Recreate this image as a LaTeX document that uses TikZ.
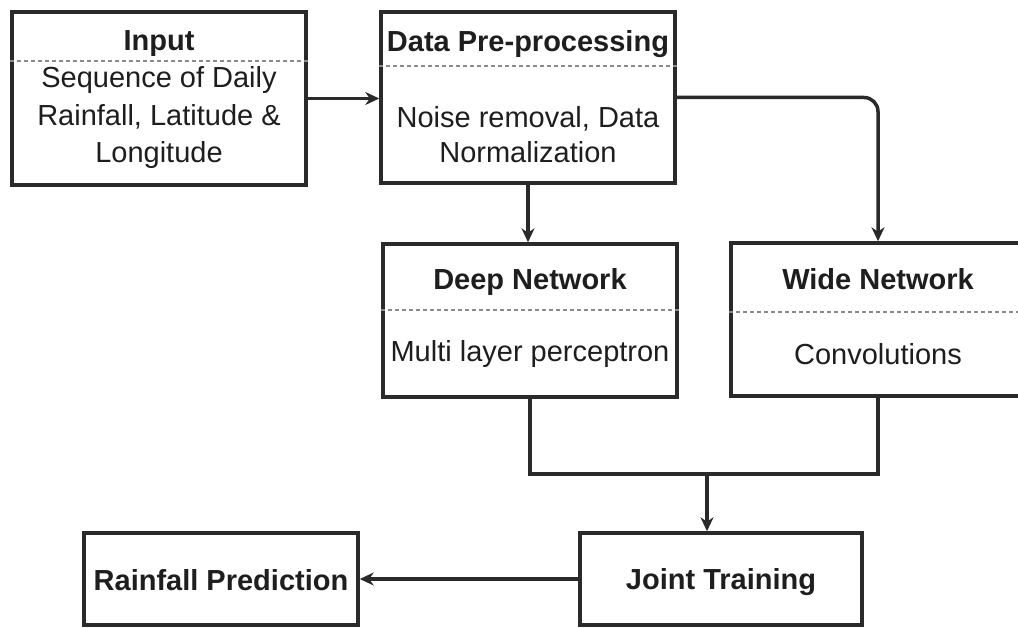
\documentclass[tikz,border=0pt]{standalone}
\usepackage{fontspec}
\setmainfont{Liberation Sans}
\usetikzlibrary{arrows.meta}
\definecolor{linec}{HTML}{2A2A2A}
\definecolor{txtc}{HTML}{1E1E1E}
\definecolor{sepc}{HTML}{8A8A8A}
\begin{document}
\begin{tikzpicture}[x=1pt,y=-1pt,
  box/.style={draw=linec, line width=3.5pt, rectangle, inner sep=0pt, fill=white},
  ttl/.style={font=\fontsize{29}{36}\selectfont\bfseries, text=txtc, inner sep=0pt},
  body/.style={font=\fontsize{29}{37}\selectfont, text=txtc, inner sep=0pt, align=center},
  sepline/.style={draw=sepc, line width=1.5pt, dash pattern=on 4pt off 3pt},
  conn/.style={draw=linec, line width=3.5pt},
  arr/.style={conn, -{Stealth[length=14pt,width=13pt]}}]
\clip (0,0) rectangle (1018,628);
\fill[white] (0,0) rectangle (1018,628);

% boxes
\node[box, minimum width=294, minimum height=173] (in) at (159,98.5) {};
\node[box, minimum width=294, minimum height=171] (pre) at (528,97.5) {};
\node[box, minimum width=294, minimum height=153] (deep) at (530,320.5) {};
\node[box, minimum width=294, minimum height=153] (wide) at (878,319.5) {};
\node[box, minimum width=282, minimum height=92] (joint) at (721,579) {};
\node[box, minimum width=274, minimum height=92] (rain) at (221,579) {};

% separators
\coordinate (s1) at (0,61);
\coordinate (s2) at (0,66);
\coordinate (s3) at (0,310);
\coordinate (s4) at (0,312);
\draw[sepline] (in.west |- s1) -- (in.east |- s1);
\draw[sepline] (pre.west |- s2) -- (pre.east |- s2);
\draw[sepline] (deep.west |- s3) -- (deep.east |- s3);
\draw[sepline] (wide.west |- s4) -- (wide.east |- s4);

% texts
\node[ttl, anchor=base] (inT) at (159,51) {Input};
\node[body, font=\fontsize{29}{37.5}\selectfont] (inB) at (159,118) {Sequence of Daily\\Rainfall, Latitude \&\\Longitude};
\node[ttl, anchor=base] (preT) at (528,52) {Data Pre-processing};
\node[body, font=\fontsize{29}{35}\selectfont] (preB) at (528,135) {Noise removal, Data\\Normalization};
\node[ttl, anchor=base] (deepT) at (530,290) {Deep Network};
\node[body, anchor=base] (deepB) at (530,362) {Multi layer perceptron};
\node[ttl, anchor=base] (wideT) at (878,290) {Wide Network};
\node[body, anchor=base] (wideB) at (878,365) {Convolutions};
\node[ttl, anchor=base] (jointT) at (721,589) {Joint Training};
\node[ttl, anchor=base] (rainT) at (221,590) {Rainfall Prediction};

% connectors
\draw[arr] (in.east) -- (in.east -| pre.west);
\draw[arr] (pre.south) -- (pre.south |- deep.north);
\draw[arr, rounded corners=14pt] (pre.east) -| (wide.north);
\coordinate (mj) at (707,474);
\draw[conn] (deep.south) |- (mj) -| (wide.south);
\draw[arr] (mj) -- (mj |- joint.north);
\draw[arr] (joint.west) -- (joint.west -| rain.east);
\end{tikzpicture}
\end{document}
